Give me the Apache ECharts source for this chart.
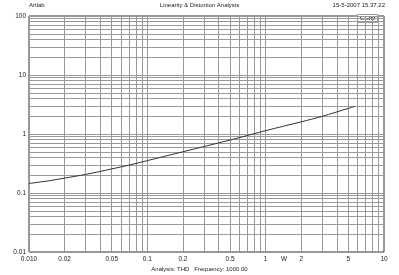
<!DOCTYPE html>
<html>
<head>
<meta charset="utf-8">
<script src="https://cdn.jsdelivr.net/npm/echarts@6/dist/echarts.min.js"></script>
<style>
  html, body { margin: 0; padding: 0; background: #fff; }
  #chart { width: 399px; height: 275px; }
</style>
</head>
<body>
<div id="chart"></div>
<script>
// potenza (W) e THD (%)
var power = [0.01, 0.015, 0.02, 0.03, 0.05, 0.07, 0.1, 0.2, 0.5, 1, 2, 3, 5, 5.7];
var thd = [0.145, 0.162, 0.179, 0.206, 0.256, 0.297, 0.354, 0.5, 0.79, 1.14, 1.61, 1.99, 2.72, 2.94];

var xLabelValues = [0.01, 0.02, 0.05, 0.1, 0.2, 0.5, 1, 1.43, 2, 5, 10];
var xLabelTexts = ["0.010", "0.02", "0.05", "0.1", "0.2", "0.5", "1", "W", "2", "5", "10"];
var yLabelValues = [0.01, 0.1, 1, 10, 100];
var yLabelTexts = ["0.01", "0.1", "1", "10", "100"];

// linee della griglia: 1..9 per ogni decade
function decadi(from, to) {
  var out = [];
  for (var e = from; e < to; e++) {
    for (var k = 1; k < 10; k++) out.push(+(k * Math.pow(10, e)).toPrecision(3));
  }
  out.push(Math.pow(10, to));
  return out;
}
var xGrid = decadi(-2, 1);
var yGrid = decadi(-2, 2);

function lookup(vals, texts) {
  return function (v) {
    var best = 0;
    for (var i = 1; i < vals.length; i++) {
      if (Math.abs(Math.log10(vals[i] / v)) < Math.abs(Math.log10(vals[best] / v))) best = i;
    }
    return texts[best];
  };
}

var font = "Liberation Sans";
var myChart = echarts.init(document.getElementById("chart"));

myChart.setOption({
  animation: false,
  backgroundColor: "#fff",
  textStyle: { fontFamily: font },
  grid: { left: 29, right: 15, top: 16, bottom: 23, show: true, borderColor: "#333", borderWidth: 1 },
  graphic: [
    { type: "text", left: 29, top: 2, style: { text: "Artlab", font: "6px " + font, fill: "#222" } },
    { type: "text", left: "center", top: 2, style: { text: "Linearity & Distortion Analysis", font: "6px " + font, fill: "#222" } },
    { type: "text", right: 14, top: 2, style: { text: "15-5-2007 15.37.22", font: "6px " + font, fill: "#222" } },
    { type: "text", left: "center", top: 266, style: { text: "Analysis: THD   Frequency: 1000.00", font: "6px " + font, fill: "#222" } },
    {
      type: "group", right: 21, top: 14,
      children: [
        { type: "rect", shape: { x: 0, y: 0, width: 20, height: 8 }, style: { fill: "#fff", stroke: "#999", lineWidth: 1 } },
        { type: "text", x: 10, y: 4, style: { text: "CLIO", font: "bold 6px 'Liberation Serif'", fill: "#222", align: "center", verticalAlign: "middle" } }
      ]
    }
  ],
  xAxis: {
    type: "log",
    logBase: 10,
    min: 0.01,
    max: 10,
    axisLine: { show: false },
    axisTick: { show: false, customValues: xGrid },
    splitLine: { show: true, lineStyle: { color: "#999", width: 1 } },
    axisLabel: {
      customValues: xLabelValues,
      formatter: lookup(xLabelValues, xLabelTexts),
      fontSize: 6.5, color: "#222", margin: 4
    }
  },
  yAxis: {
    type: "log",
    logBase: 10,
    min: 0.01,
    max: 100,
    axisLine: { show: false },
    axisTick: { show: false, customValues: yGrid },
    splitLine: { show: true, lineStyle: { color: "#999", width: 1 } },
    axisLabel: {
      customValues: yLabelValues,
      formatter: lookup(yLabelValues, yLabelTexts),
      fontSize: 6.5, color: "#222", margin: 3
    }
  },
  series: [
    {
      type: "line",
      data: power.map(function (p, i) { return [p, thd[i]]; }),
      showSymbol: false,
      smooth: 0.3,
      lineStyle: { color: "#333", width: 1 }
    }
  ]
});
</script>
</body>
</html>
